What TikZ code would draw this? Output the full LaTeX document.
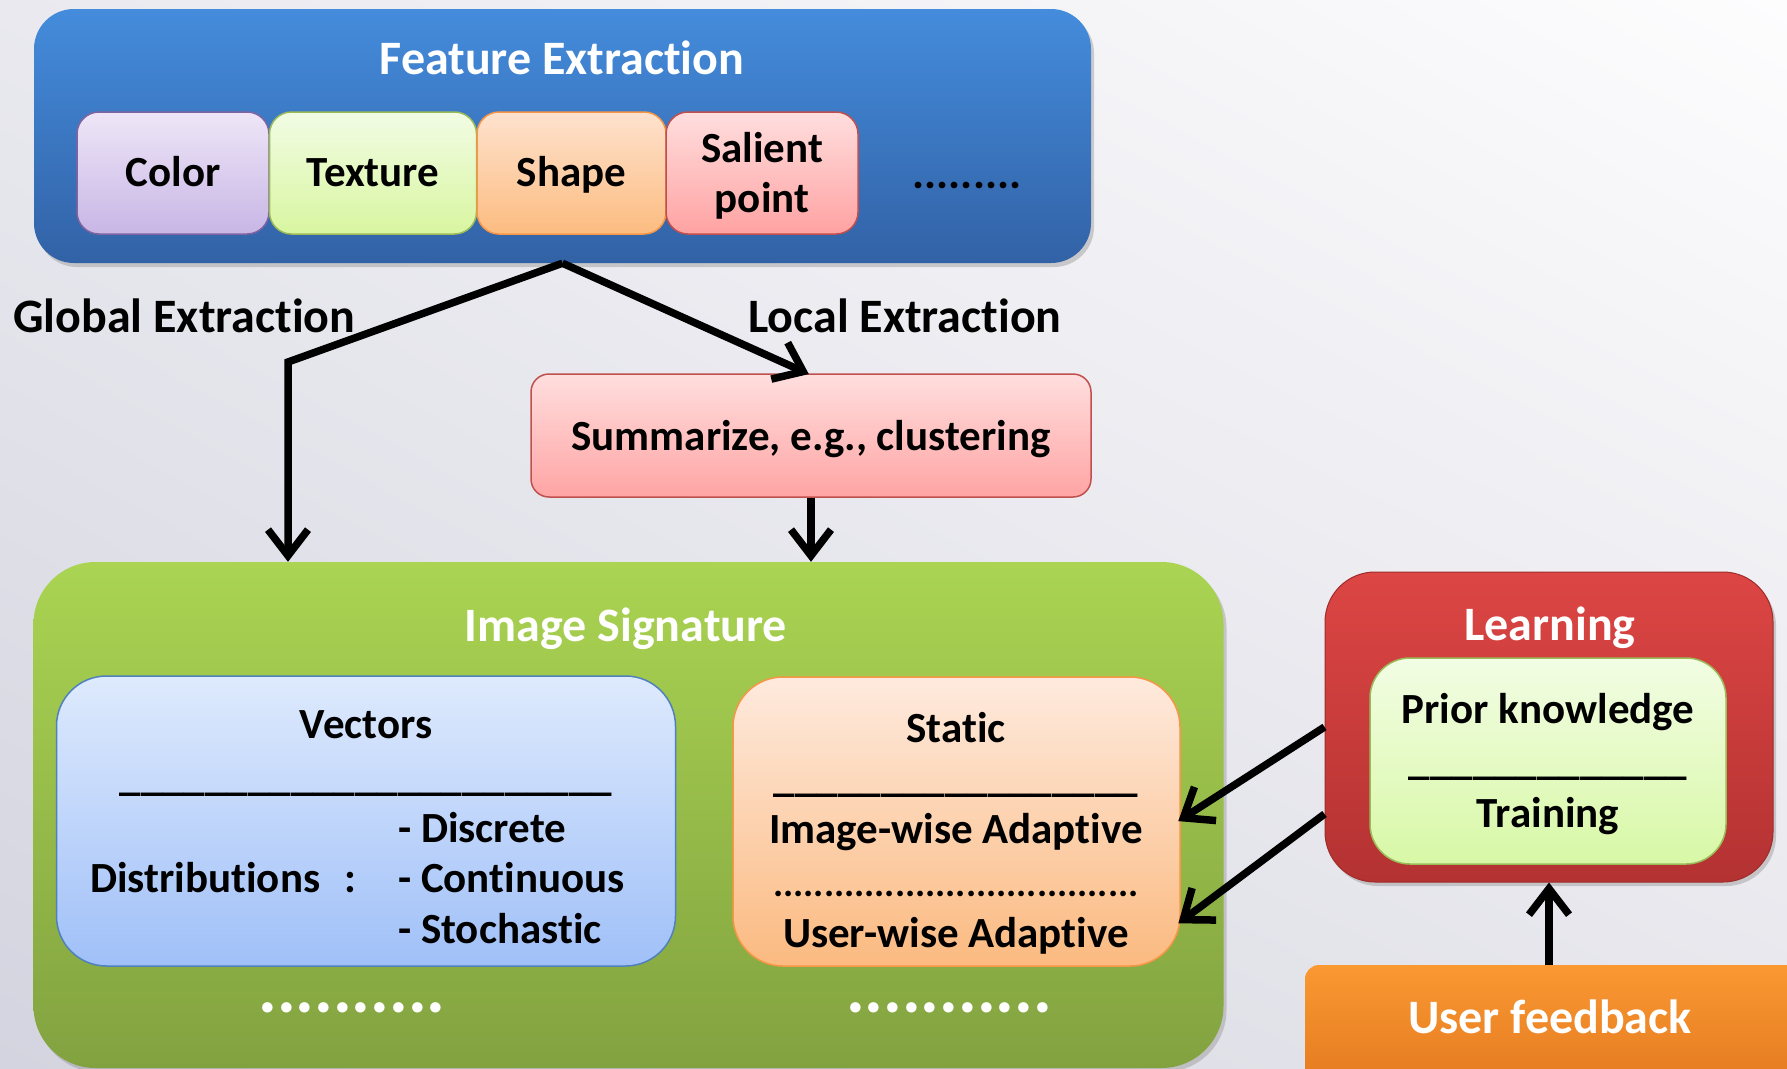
\documentclass[tikz,border=0pt]{standalone}
\usepackage{fontspec}
\setmainfont{Carlito}[Ligatures=NoCommon]
\usetikzlibrary{arrows.meta,shadows,shadings}

\newcommand\fsz[1]{\fontsize{#1}{#1}\selectfont}

\definecolor{bgLL}{HTML}{D4D4E0}
\definecolor{bgUL}{HTML}{E9E9EF}
\definecolor{bgUR}{HTML}{FDFDFE}
\definecolor{bgLR}{HTML}{E6E6EC}

\tikzset{
  panel/.style={draw=none, rounded corners=#1, drop shadow={opacity=0.35, shadow xshift=3pt, shadow yshift=-4pt}},
  chip/.style={draw, line width=1.5pt, rounded corners=22pt, inner sep=0pt, align=center},
  boxtxt/.style={font=\bfseries\fsz{43}, inner sep=0pt},
  heading/.style={font=\bfseries\fsz{48}, inner sep=0pt, text=white},
  arr/.style={line width=7.5pt, -{Straight Barb[length=26pt,width=40pt,line width=7.5pt]}},
}

\begin{document}
\begin{tikzpicture}[x=1pt,y=-1pt]
  \useasboundingbox (0,0) rectangle (1787,1068);
  \clip (0,0) rectangle (1787,1068);

  % backdrop
  \shade[lower left=bgLL, upper left=bgUL, upper right=bgUR, lower right=bgLR]
    (0,0) rectangle (1787,1068);

  % ---------- Feature Extraction ----------
  \node[panel=40pt, top color={rgb,255:red,68;green,140;blue,220}, bottom color={rgb,255:red,50;green,98;blue,166},
        minimum width=1057pt, minimum height=254pt, inner sep=0pt] (fe) at (562.5,136) {};
  \node[heading, anchor=base] at (562,74) {Feature Extraction};

  \node[chip, draw={rgb,255:red,128;green,100;blue,162}, top color={rgb,255:red,238;green,230;blue,247}, bottom color={rgb,255:red,200;green,182;blue,230},
        minimum width=192pt, minimum height=122pt] (color) at (173,173) {};
  \node[chip, draw={rgb,255:red,155;green,187;blue,89}, top color={rgb,255:red,242;green,252;blue,228}, bottom color={rgb,255:red,216;green,246;blue,160},
        minimum width=207pt, minimum height=122pt] (texture) at (373,173) {};
  \node[chip, draw={rgb,255:red,247;green,150;blue,70}, top color={rgb,255:red,254;green,226;blue,206}, bottom color={rgb,255:red,252;green,188;blue,128},
        minimum width=189pt, minimum height=122pt] (shape) at (571.5,173) {};
  \node[chip, draw={rgb,255:red,192;green,80;blue,77}, top color={rgb,255:red,255;green,222;blue,222}, bottom color={rgb,255:red,255;green,162;blue,162},
        minimum width=192pt, minimum height=122pt] (salient) at (762,173) {};

  \node[boxtxt, anchor=base] at (color.center |- 0,186) {Color};
  \node[boxtxt, anchor=base] at (texture.center |- 0,186) {Texture};
  \node[boxtxt, anchor=base] at (shape.center |- 0,186) {Shape};
  \node[boxtxt, anchor=base] at (salient.center |- 0,162) {Salient};
  \node[boxtxt, anchor=base] at (salient.center |- 0,212) {point};
  \node[boxtxt, anchor=base, font=\bfseries\fsz{45}] at (967,188) {.........};

  % ---------- extraction branches ----------
  \node[font=\bfseries\fsz{48}, inner sep=0pt, anchor=base west] (glab) at (13,332) {Global Extraction};
  \node[font=\bfseries\fsz{48}, inner sep=0pt, anchor=base west] (llab) at (748,332) {Local Extraction};

  \node[chip, draw={rgb,255:red,192;green,80;blue,77}, top color={rgb,255:red,255;green,222;blue,222}, bottom color={rgb,255:red,255;green,164;blue,164},
        rounded corners=18pt, minimum width=560pt, minimum height=123pt] (sum) at (811,435.5) {};
  \node[boxtxt, anchor=base] at (811,450) {Summarize, e.g., clustering};

  % ---------- Image Signature ----------
  \node[panel=62pt, top color={rgb,255:red,170;green,212;blue,82}, bottom color={rgb,255:red,130;green,162;blue,64},
        minimum width=1190pt, minimum height=506pt, inner sep=0pt] (sig) at (628.5,815) {};
  \node[heading, anchor=base] at (626,641) {Image Signature};

  \node[chip, draw={rgb,255:red,79;green,129;blue,189}, top color={rgb,255:red,222;green,234;blue,253}, bottom color={rgb,255:red,160;green,192;blue,248},
        rounded corners=50pt, minimum width=619pt, minimum height=290pt] (vec) at (366,821) {};
  \node[boxtxt, anchor=base] at (366,738) {Vectors};
  \node[boxtxt, anchor=base] at (366,790) {\_\_\_\_\_\_\_\_\_\_\_\_\_\_\_\_\_\_\_\_\_\_\_};
  \node[boxtxt, anchor=base west] at (90,892) {Distributions\hspace{24pt}:};
  \node[boxtxt, anchor=base west] at (398,842) {- Discrete};
  \node[boxtxt, anchor=base west] at (398,892) {- Continuous};
  \node[boxtxt, anchor=base west] at (398,943) {- Stochastic};

  \node[chip, draw={rgb,255:red,247;green,150;blue,70}, top color={rgb,255:red,254;green,234;blue,222}, bottom color={rgb,255:red,251;green,186;blue,128},
        rounded corners=50pt, minimum width=447pt, minimum height=289pt] (stat) at (956.5,821.5) {};
  \node[boxtxt, anchor=base] at (956,742) {Static};
  \node[boxtxt, anchor=base] at (956,791) {\_\_\_\_\_\_\_\_\_\_\_\_\_\_\_\_\_};
  \node[boxtxt, anchor=base] at (956,843) {Image-wise Adaptive};
  \node[boxtxt, anchor=base, font=\bfseries\fsz{38}] at (956,896) {....................................};
  \node[boxtxt, anchor=base] at (956,947) {User-wise Adaptive};

  \node[inner sep=0pt, anchor=base, text=white, font=\bfseries\fsz{70}] at (352,1012) {..........};
  \node[inner sep=0pt, anchor=base, text=white, font=\bfseries\fsz{70}] at (949,1012) {...........};

  % ---------- Learning ----------
  \node[panel=50pt, top color={rgb,255:red,220;green,70;blue,68}, bottom color={rgb,255:red,180;green,50;blue,50},
        draw={rgb,255:red,160;green,44;blue,42}, line width=1pt,
        minimum width=448pt, minimum height=310pt, inner sep=0pt] (learn) at (1549,727) {};
  \node[heading, anchor=base] at (1550,640) {Learning};
  \node[chip, draw={rgb,255:red,155;green,187;blue,89}, top color={rgb,255:red,242;green,253;blue,228}, bottom color={rgb,255:red,216;green,248;blue,166},
        rounded corners=40pt, minimum width=356pt, minimum height=206pt] (prior) at (1548,761) {};
  \node[boxtxt, anchor=base] at (1548,723) {Prior knowledge};
  \node[boxtxt, anchor=base] at (1548,774) {\_\_\_\_\_\_\_\_\_\_\_\_\_};
  \node[boxtxt, anchor=base] at (1548,827) {Training};

  % ---------- User feedback ----------
  \node[panel=14pt, top color={rgb,255:red,250;green,152;blue,50}, bottom color={rgb,255:red,226;green,120;blue,30},
        minimum width=520pt, minimum height=130pt, inner sep=0pt] (fb) at (1565,1030) {};
  \node[heading, anchor=base] at (1550,1033) {User feedback};

  % ---------- connectors ----------
  \coordinate (bend) at (288,362);
  \draw[arr] (fe.south) -- (bend) -- (bend |- sig.north);
  \draw[arr, shorten >=-2pt] (fe.south) -- ([xshift=-4pt]sum.north);
  \draw[arr] (sum.south) -- (sum.south |- sig.north);
  \draw[arr, shorten >=-3pt] (learn.west) -- ([yshift=2pt]stat.east);
  \draw[arr, shorten >=-3pt] ([yshift=-87pt]learn.west) -- ([yshift=-100pt]stat.east);
  \draw[arr] (fb.north -| learn.south) -- (learn.south);
\end{tikzpicture}
\end{document}
